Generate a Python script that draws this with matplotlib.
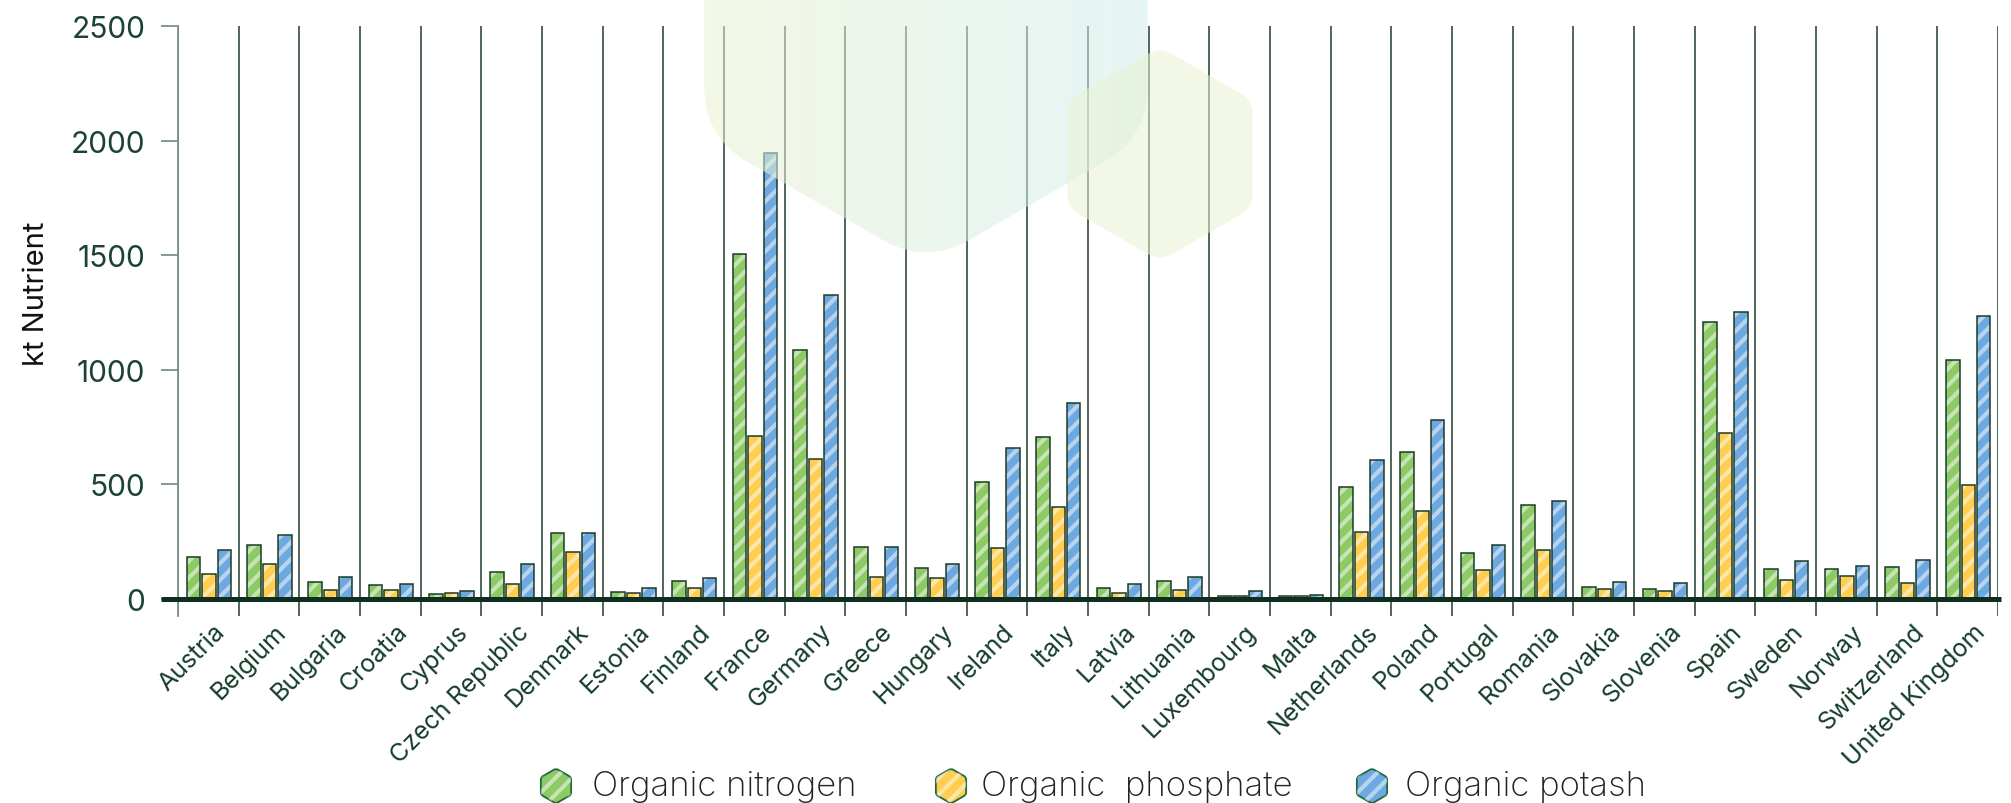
import numpy as np
import matplotlib
matplotlib.use('Agg')
import matplotlib.pyplot as plt
from matplotlib.path import Path
from matplotlib.patches import PathPatch

plt.rcParams['font.family'] = ['Inter', 'DejaVu Sans']
plt.rcParams['hatch.linewidth'] = 3.0

# data (kt nutrient)
countries = ['Austria', 'Belgium', 'Bulgaria', 'Croatia', 'Cyprus', 'Czech Republic',
             'Denmark', 'Estonia', 'Finland', 'France', 'Germany', 'Greece', 'Hungary',
             'Ireland', 'Italy', 'Latvia', 'Lithuania', 'Luxembourg', 'Malta',
             'Netherlands', 'Poland', 'Portugal', 'Romania', 'Slovakia', 'Slovenia',
             'Spain', 'Sweden', 'Norway', 'Switzerland', 'United Kingdom']
nitrogen = [184, 235, 76, 60, 21, 116, 288, 31, 78, 1505, 1088, 225, 136, 512, 708,
            46, 78, 15, 15, 490, 642, 202, 411, 54, 43, 1210, 131, 133, 141, 1043]
phosphate = [108, 155, 41, 40, 28, 67, 205, 28, 46, 713, 612, 94, 91, 224, 402,
             28, 41, 14, 15, 294, 386, 126, 215, 43, 33, 724, 82, 102, 72, 498]
potash = [213, 281, 98, 65, 33, 155, 288, 46, 91, 1944, 1327, 228, 155, 657, 856,
          65, 98, 33, 18, 605, 782, 235, 429, 76, 68, 1254, 167, 146, 171, 1236]

series_names = ['Organic nitrogen', 'Organic  phosphate', 'Organic potash']
fills = ['#8dc965', '#ffcd4f', '#6ea8e0']

W, H = 2011, 804
fig = plt.figure(figsize=(W / 100, H / 100), dpi=100)
fig.patch.set_facecolor('white')

ax = fig.add_axes([178 / W, 1 - 617 / H, 1820 / W, 590 / H], zorder=1)
ax.patch.set_alpha(0)

x = np.arange(len(countries)) + 0.51
bw = 0.222
offs = [-0.255, 0.0, 0.255]
for vals, fc, off in zip([nitrogen, phosphate, potash], fills, offs):
    ax.bar(x + off, vals, bw, color=fc, lw=0, zorder=3)
    ax.bar(x + off, vals, bw, color='none', edgecolor=(1, 1, 1, 0.5), hatch='//',
           lw=0, zorder=3.1)
    ax.bar(x + off, vals, bw, color='none', edgecolor='#1b3a28', lw=1.1, zorder=3.2)

ax.set_xlim(0, 30)
ax.set_ylim(-74, 2500)

ax.set_xticks(np.arange(31), minor=True)
ax.grid(which='minor', axis='x', color='#41594c', lw=1.3, zorder=1)
ax.set_xticks([])
ax.tick_params(axis='x', which='both', length=0)
for i, name in enumerate(countries):
    ax.text(i + 0.5 + 0.22, -125, name, rotation=45, ha='right', va='center',
            rotation_mode='anchor', fontsize=18, color='#153d2a', clip_on=False)

ax.set_yticks([0, 500, 1000, 1500, 2000, 2500])
ax.tick_params(axis='y', length=12.5, width=1.3, color='#7d9189', pad=11,
               labelsize=21.5, labelcolor='#1b4332')
for s in ['top', 'right', 'bottom']:
    ax.spines[s].set_visible(False)
ax.spines['left'].set_color('#7d9189')
ax.spines['left'].set_linewidth(1.3)

# thick zero line
ax.plot([-0.28, 30.05], [0, 0], color='#0f2e1f', lw=3.6, zorder=5, clip_on=False,
        solid_capstyle='butt')

fig.text(36 / W, 1 - 294 / H, 'kt Nutrient', rotation=90, ha='center', va='center',
         fontsize=21, color='#111111')

# overlay with the decorative hexagons and the legend (pixel coordinates)
ov = fig.add_axes([0, 0, 1, 1], zorder=3)
ov.axis('off')
ov.patch.set_alpha(0)


def rounded_hex(cx, cy, r, rad):
    ang = np.radians(90 + 60 * np.arange(6))
    pts = np.c_[cx + r * np.cos(ang), cy - r * np.sin(ang)]
    t = rad / r
    verts, codes = [], []
    for k in range(6):
        p, v, n = pts[k - 1], pts[k], pts[(k + 1) % 6]
        a = v + (p - v) * t
        b = v + (n - v) * t
        verts += [a, v, b]
        codes += [Path.MOVETO if k == 0 else Path.LINETO, Path.CURVE3, Path.CURVE3]
    verts.append(verts[0])
    codes.append(Path.CLOSEPOLY)
    return Path(verts, codes)


big = PathPatch(rounded_hex(926, 10, 256, 50), facecolor='none', edgecolor='none')
ov.add_patch(big)
c0 = np.array([0xe9, 0xf2, 0xd2]) / 255
c1 = np.array([0xd2, 0xed, 0xed]) / 255
g = np.linspace(0, 1, 256)
img = np.ones((1, 256, 4))
img[0, :, :3] = c0 + (c1 - c0) * g[:, None]
img[0, :, 3] = 0.55
im = ov.imshow(img, extent=[700, 1150, 280, -260], aspect='auto', zorder=1,
               interpolation='bilinear')
im.set_clip_path(big)
ov.set_xlim(0, W)
ov.set_ylim(H, 0)

ov.add_patch(PathPatch(rounded_hex(1160, 155, 107, 14), facecolor='#e9f2d2',
                       edgecolor='none', alpha=0.55, zorder=2))

# legend
leg_hex_x = [556, 951, 1372]
leg_txt_x = [592, 981, 1405]
for hx, tx, fc, name in zip(leg_hex_x, leg_txt_x, fills, series_names):
    p = rounded_hex(hx, 787, 17.5, 2.5)
    ov.add_patch(PathPatch(p, facecolor=fc, edgecolor='#1f6a3c', lw=1.3, zorder=4))
    ov.add_patch(PathPatch(p, facecolor='none', edgecolor=(1, 1, 1, 0.5), hatch='//',
                           lw=0, zorder=4.1))
    ov.text(tx, 787, name, ha='left', va='center', fontsize=25, color='#222222',
            fontweight='light')

fig.savefig('out.png', dpi=100, facecolor='white')
